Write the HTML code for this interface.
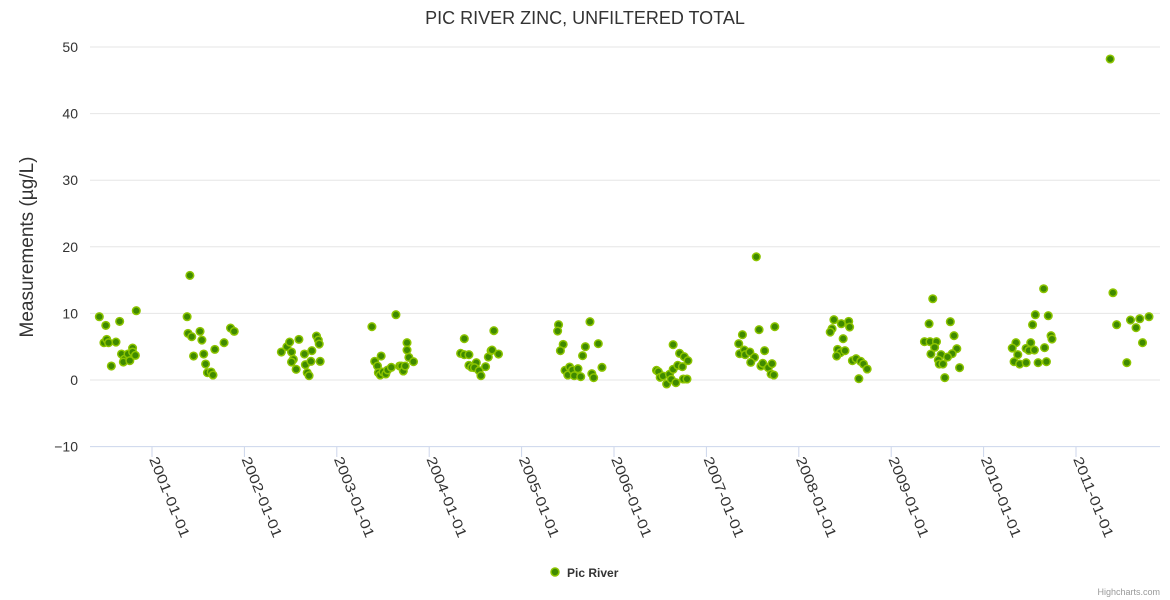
<!DOCTYPE html>
<html><head><meta charset="utf-8"><style>
body{margin:0;background:#fff;}
svg{font-family:"Liberation Sans","DejaVu Sans",sans-serif;display:block}
</style></head><body>
<svg id="chart" width="1170" height="600">
<text x="585" y="24" text-anchor="middle" font-size="18" fill="#333">PIC RIVER ZINC, UNFILTERED TOTAL</text>
<text transform="translate(33,247) rotate(-90)" text-anchor="middle" font-size="19" fill="#333">Measurements (µg/L)</text>
<g id="grid"></g><g id="xaxis"></g><g id="pts"></g>
<g>
<circle cx="555" cy="572" r="4" fill="#3f8a00" stroke="#8cc400" stroke-width="1.5"/>
<text x="567" y="577" font-size="12" font-weight="bold" fill="#333">Pic River</text>
</g>
<text x="1160" y="595" text-anchor="end" font-size="9" fill="#999">Highcharts.com</text>
</svg>
<script>
const yTicks=[-10,0,10,20,30,40,50];
const xTickYears=[2001,2002,2003,2004,2005,2006,2007,2008,2009,2010,2011];
const xTickLabels=["2001-01-01","2002-01-01","2003-01-01","2004-01-01","2005-01-01","2006-01-01","2007-01-01","2008-01-01","2009-01-01","2010-01-01","2011-01-01"];
const dates=[2000.43,2000.50,2000.65,2000.83,2000.48,2000.51,2000.53,2000.61,2000.56,2000.67,2000.70,2000.69,2000.74,2000.76,2000.79,2000.79,2000.82,
2001.41,2001.38,2001.39,2001.43,2001.52,2001.54,2001.45,2001.56,2001.58,2001.60,2001.64,2001.66,2001.68,2001.78,2001.85,2001.89,
2002.40,2002.46,2002.49,2002.51,2002.53,2002.51,2002.56,2002.59,2002.65,2002.66,2002.68,2002.70,2002.72,2002.73,2002.78,2002.80,2002.81,2002.82,
2003.38,2003.64,2003.48,2003.41,2003.44,2003.45,2003.47,2003.50,2003.53,2003.55,2003.59,2003.68,2003.70,2003.72,2003.74,2003.76,2003.76,2003.78,2003.83,
2004.38,2004.70,2004.34,2004.38,2004.43,2004.51,2004.43,2004.46,2004.49,2004.54,2004.56,2004.61,2004.64,2004.67,2004.68,2004.75,
2005.40,2005.39,2005.74,2005.45,2005.42,2005.69,2005.83,2005.66,2005.47,2005.50,2005.52,2005.55,2005.57,2005.61,2005.64,2005.76,2005.78,2005.87,
2006.64,2006.46,2006.48,2006.50,2006.53,2006.57,2006.60,2006.62,2006.64,2006.67,2006.69,2006.71,2006.74,2006.76,2006.80,2006.75,2006.79,
2007.39,2007.57,2007.74,2007.35,2007.36,2007.41,2007.42,2007.47,2007.52,2007.48,2007.63,2007.59,2007.61,2007.67,2007.71,2007.70,2007.73,2007.54,
2008.38,2008.46,2008.54,2008.55,2008.36,2008.34,2008.48,2008.42,2008.45,2008.50,2008.41,2008.58,2008.62,2008.67,2008.70,2008.74,2008.65,
2009.45,2009.41,2009.64,2009.68,2009.36,2009.42,2009.49,2009.47,2009.71,2009.43,2009.54,2009.66,2009.61,2009.51,2009.52,2009.56,2009.74,2009.58,
2010.65,2010.56,2010.70,2010.53,2010.73,2010.74,2010.35,2010.51,2010.31,2010.66,2010.46,2010.49,2010.55,2010.37,2010.33,2010.39,2010.46,2010.59,2010.68,
2011.37,2011.40,2011.44,2011.59,2011.69,2011.79,2011.65,2011.72,2011.55];
const values=[9.5,8.2,8.8,10.4,5.6,6.1,5.6,5.7,2.1,3.9,3.1,2.7,3.9,2.9,4.8,4.2,3.7,
15.7,9.5,7.0,6.5,7.3,6.0,3.6,3.9,2.4,1.1,1.2,0.75,4.6,5.6,7.8,7.3,
4.2,5.0,5.7,4.2,3.1,2.7,1.6,6.1,3.9,2.3,1.1,0.65,2.8,4.4,6.6,6.0,5.4,2.8,
8.0,9.8,3.6,2.8,2.1,1.1,0.75,1.2,0.9,1.5,1.9,2.1,2.1,1.35,2.1,5.6,4.5,3.4,2.75,
6.2,7.4,4.0,3.8,3.8,2.6,2.2,1.9,1.85,1.4,0.65,2.0,3.45,4.4,4.5,3.9,
8.3,7.35,8.75,5.35,4.4,5.0,5.45,3.65,1.45,0.75,1.95,1.5,0.65,1.7,0.5,0.95,0.35,1.9,
5.3,1.45,1.25,0.4,0.6,-0.6,0.85,0.1,1.6,-0.4,2.2,4.0,2.0,3.5,2.9,0.15,0.15,
6.8,7.55,8.0,5.45,3.95,4.5,3.8,4.2,3.4,2.65,4.4,2.1,2.5,1.85,2.45,0.9,0.75,18.5,
9.05,8.45,8.8,7.95,7.7,7.2,6.2,4.6,4.1,4.4,3.6,2.9,3.2,2.8,2.4,1.65,0.2,
12.2,8.45,8.75,6.65,5.75,5.75,5.75,4.9,4.7,3.9,3.8,3.95,3.45,3.0,2.4,2.4,1.85,0.35,
13.7,9.8,9.65,8.3,6.65,6.15,5.6,5.6,4.8,4.85,4.75,4.45,4.5,3.8,2.75,2.4,2.6,2.6,2.75,
48.2,13.1,8.3,9.0,9.2,9.5,7.85,5.6,2.6];
const NS="http://www.w3.org/2000/svg";
const X0=90,X1=1160;
function xs(t){return 152+(t-2001)*92.4;}
function ys(v){return 380-v*6.66;}
const grid=document.getElementById('grid');
yTicks.forEach(v=>{
  const l=document.createElementNS(NS,'line');
  l.setAttribute('x1',X0);l.setAttribute('x2',X1);l.setAttribute('y1',ys(v));l.setAttribute('y2',ys(v));
  l.setAttribute('stroke',v===-10?'#ccd6eb':'#e6e6e6');l.setAttribute('stroke-width',1);
  
  
  grid.appendChild(l);
  const t=document.createElementNS(NS,'text');
  t.setAttribute('x',78);t.setAttribute('y',ys(v)+5);t.setAttribute('text-anchor','end');
  t.setAttribute('font-size','14');t.setAttribute('fill','#333');
  t.textContent=v<0?'\u2212'+Math.abs(v):String(v);
  
  
  grid.appendChild(t);
});
const xa=document.getElementById('xaxis');
xTickYears.forEach((yr,i)=>{
  const x=xs(yr);
  const l=document.createElementNS(NS,'line');
  l.setAttribute('x1',x);l.setAttribute('x2',x);l.setAttribute('y1',447);l.setAttribute('y2',457);
  l.setAttribute('stroke','#ccd6eb');
  
  
  xa.appendChild(l);
  const t=document.createElementNS(NS,'text');
  t.setAttribute('transform','translate('+(x-3)+',459) rotate(68)');
  t.setAttribute('font-size','14');t.setAttribute('fill','#333');
  t.setAttribute('textLength','86');t.setAttribute('lengthAdjust','spacingAndGlyphs');
  t.textContent=xTickLabels[i];
  
  
  xa.appendChild(t);
});
const pts=document.getElementById('pts');
dates.forEach((d,i)=>{
  const c=document.createElementNS(NS,'circle');
  c.setAttribute('cx',xs(d));c.setAttribute('cy',ys(values[i]));c.setAttribute('r',3.8);
  c.setAttribute('fill','#3f8a00');c.setAttribute('stroke','#8cc400');c.setAttribute('stroke-width',1.5);
  
  
  pts.appendChild(c);
});
</script>
</body></html>
